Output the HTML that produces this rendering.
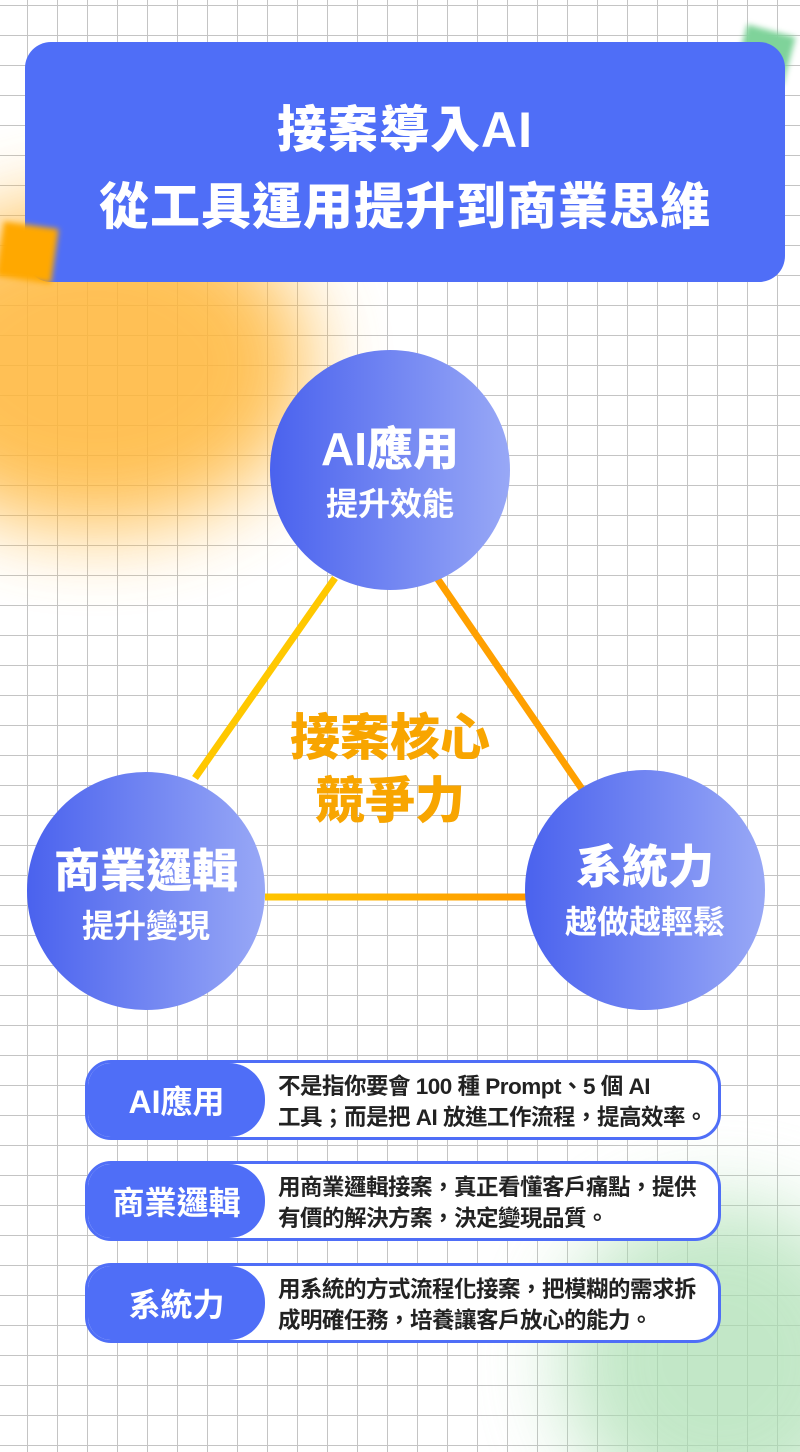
<!DOCTYPE html>
<html><head><meta charset="utf-8"><style>
*{margin:0;padding:0;box-sizing:border-box}
html,body{width:800px;height:1452px;overflow:hidden}
body{position:relative;background:#fff;font-family:"Liberation Sans","Noto Sans CJK TC",sans-serif;font-weight:700}
.grid{position:absolute;inset:0;background-image:linear-gradient(#c4c4c4 1px,transparent 1px),linear-gradient(90deg,#c4c4c4 1px,transparent 1px);background-size:30px 30px;background-position:27px 5px}
.blob{position:absolute;border-radius:50%;filter:blur(40px)}
.hdr{position:absolute;left:25px;top:42px;width:760px;height:240px;background:#4f6ef7;border-radius:26px;color:#fff;text-align:center;font-size:50px;line-height:77px;padding-top:50px;font-weight:900;letter-spacing:1px}
.c{position:absolute;border-radius:50%;background:linear-gradient(90deg,#4a62ee,#98a8f6);color:#fff;text-align:center}
.c b{display:block;font-size:46px;font-weight:900;line-height:58px}
.c span{display:block;font-size:32px;line-height:52px}
.card{position:absolute;left:85px;width:636px;height:80px;border:3px solid #4f6ef7;border-radius:26px;background:#fff;overflow:hidden}
.card .l{position:absolute;left:0;top:0;bottom:0;width:177px;background:#4f6ef7;border-radius:0 36px 36px 0;color:#fff;font-size:32px;display:flex;align-items:center;justify-content:center}
.card .r{position:absolute;left:190px;top:8px;right:2px;font-size:22.5px;line-height:31px;color:#222;letter-spacing:-0.5px}
</style></head><body>
<div class="grid"></div>
<div class="blob" style="left:-120px;top:200px;width:430px;height:330px;background:#ffb638;opacity:.85"></div>
<div class="blob" style="left:560px;top:1200px;width:320px;height:320px;background:#a9deb0;opacity:.7"></div>
<div style="position:absolute;left:740px;top:30px;width:50px;height:50px;background:#7fd39a;transform:rotate(15deg);filter:blur(3px)"></div>
<div class="hdr">接案導入AI<br>從工具運用提升到商業思維</div>
<div style="position:absolute;left:0;top:225px;width:55px;height:55px;background:#ffa800;filter:blur(3px);transform:rotate(8deg)"></div>
<svg style="position:absolute;left:0;top:0" width="800" height="1452">
<defs><linearGradient id="g" gradientUnits="userSpaceOnUse" x1="270" y1="0" x2="528" y2="0"><stop offset="0" stop-color="#ffc400"/><stop offset="1" stop-color="#ff9a00"/></linearGradient></defs>
<line x1="335" y1="578" x2="195" y2="778" stroke="#ffc800" stroke-width="7"/>
<line x1="437" y1="578" x2="584" y2="792" stroke="#ffa000" stroke-width="7"/>
<line x1="265" y1="897" x2="530" y2="897" stroke="url(#g)" stroke-width="7"/>
</svg>
<div class="c" style="left:270px;top:350px;width:240px;height:240px;padding-top:70px"><b>AI應用</b><span>提升效能</span></div>
<div class="c" style="left:27px;top:772px;width:238px;height:238px;padding-top:70px"><b>商業邏輯</b><span>提升變現</span></div>
<div class="c" style="left:525px;top:770px;width:240px;height:240px;padding-top:68px"><b>系統力</b><span>越做越輕鬆</span></div>
<div style="position:absolute;left:240px;top:707px;width:300px;text-align:center;color:#f8a500;font-size:50px;line-height:63px;font-weight:900">接案核心<br>競爭力</div>
<div class="card" style="top:1060px"><div class="l">AI應用</div><div class="r">不是指你要會 100 種 Prompt、5 個 AI<br>工具；而是把 AI 放進工作流程，提高效率。</div></div>
<div class="card" style="top:1161px"><div class="l">商業邏輯</div><div class="r">用商業邏輯接案，真正看懂客戶痛點，提供<br>有價的解決方案，決定變現品質。</div></div>
<div class="card" style="top:1263px"><div class="l">系統力</div><div class="r">用系統的方式流程化接案，把模糊的需求拆<br>成明確任務，培養讓客戶放心的能力。</div></div>
</body></html>
